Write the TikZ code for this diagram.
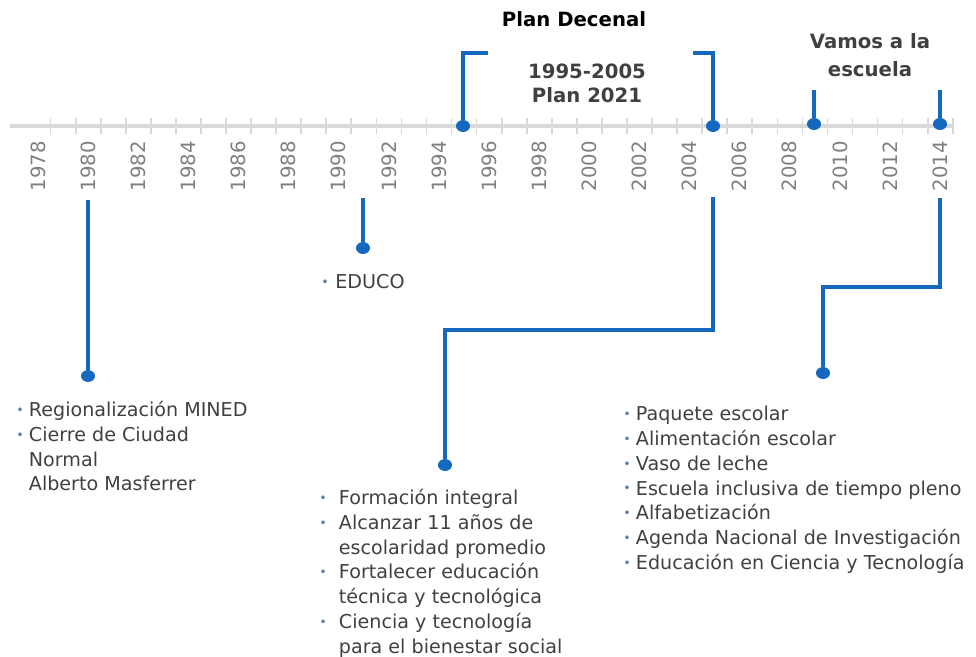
\documentclass[tikz,border=0pt]{standalone}
\usepackage{fontspec}
\setmainfont{DejaVu Sans}
\usetikzlibrary{positioning,shapes.geometric}
\definecolor{lnblue}{HTML}{1468BE}
\definecolor{axgray}{HTML}{D9D9D9}
\definecolor{yrgray}{HTML}{7F7F7F}
\definecolor{txt}{HTML}{404040}
\definecolor{bulgray}{HTML}{5F7FA8}
\newcommand{\itmbul}[1][9pt]{\makebox[#1][l]{\textcolor{bulgray}{\raisebox{.2ex}{\fontsize{9}{9}\selectfont\textbullet}}}}
\newcommand{\itmgap}[1][9pt]{\hspace*{#1}}
\begin{document}
\begin{tikzpicture}[
  x=0.025cm, y=-0.025cm,
  every node/.style={inner sep=0pt},
  ax/.style={line width=2.8pt, color=axgray},
  tk/.style={line width=1.2pt, color=axgray},
  yr/.style={rotate=90, anchor=east, font=\fontsize{14}{14}\selectfont, text=yrgray},
  lnk/.style={line width=2.2pt, color=lnblue},
  dot/.style={ellipse, fill=lnblue, minimum width=10pt, minimum height=8.5pt},
  hd/.style={font=\bfseries\fontsize{14}{17}\selectfont, text=txt, align=center},
  lst/.style={font=\fontsize{13.6}{17.6}\selectfont, text=txt, align=left, anchor=north west}
]
\useasboundingbox (0,0) rectangle (976,657);
% axis with year ticks
\draw[ax] (10,126) -- (952,126);
\foreach \y in {1978,...,2014}
  \draw[tk] ({50.6+25.06*(\y-1978)},118) -- ++(0,16);
\foreach \y in {1978,1980,...,2014}
  \node[yr] (y\y) at ({38+25.06*(\y-1978)},141) {\y};
% points on the axis
\node[dot] (d95) at (463,126) {};
\node[dot] (d05) at (713,126) {};
\node[dot] (d09) at (814,124) {};
\node[dot] (d14) at (940,124) {};
% Plan Decenal bracket
\coordinate (t95) at (463,53);
\coordinate (t05) at (713,53);
\draw[lnk] (d95) -- (t95) -- (t05) -- (d05);
\fill[white] (488,0) rectangle (693,57);
\node[font=\bfseries\fontsize{14}{17}\selectfont, text=black] (pd) at (574,19) {Plan Decenal};
\node[hd] (p21) at (587,83) {1995-2005\\Plan 2021};
% Vamos a la escuela
\coordinate (t09) at (814,90);
\coordinate (t14) at (940,90);
\draw[lnk] (t09) -- (d09);
\draw[lnk] (t14) -- (d14);
\node[hd, font=\bfseries\fontsize{14}{20}\selectfont] (ve) at (870,55) {Vamos a la\\escuela};
% 1980
\coordinate (c80) at (88,200);
\node[dot] (e80) at (88,376) {};
\draw[lnk] (c80) -- (e80);
\node[lst] (l80) at (16,401) {\itmbul Regionalización MINED\\
  \itmbul Cierre de Ciudad\\ \itmgap Normal\\ \itmgap Alberto Masferrer};
% 1991
\coordinate (c91) at (363,198);
\node[dot] (e91) at (363,248) {};
\draw[lnk] (c91) -- (e91);
\node[lst] (l91) at (321,274) {\itmbul[10pt]EDUCO};
% 2005
\coordinate (c05) at (713,197);
\coordinate (k05) at (445,330);
\node[dot] (e05) at (445,465) {};
\draw[lnk] (c05) |- (k05) -- (e05);
\node[lst] (l05) at (319,489) {\itmbul[14pt]Formación integral\\
  \itmbul[14pt]Alcanzar 11 años de\\ \itmgap[14pt]escolaridad promedio\\
  \itmbul[14pt]Fortalecer educación\\ \itmgap[14pt]técnica y tecnológica\\
  \itmbul[14pt]Ciencia y tecnología\\ \itmgap[14pt]para el bienestar social};
% 2014
\coordinate (c14) at (940,198);
\coordinate (k14) at (823,287);
\node[dot] (e14) at (823,373) {};
\draw[lnk] (c14) |- (k14) -- (e14);
\node[lst] (l14) at (623,406) {\itmbul Paquete escolar\\ \itmbul Alimentación escolar\\
  \itmbul Vaso de leche\\ \itmbul Escuela inclusiva de tiempo pleno\\
  \itmbul Alfabetización\\ \itmbul Agenda Nacional de Investigación\\
  \itmbul Educación en Ciencia y Tecnología};
\end{tikzpicture}
\end{document}
